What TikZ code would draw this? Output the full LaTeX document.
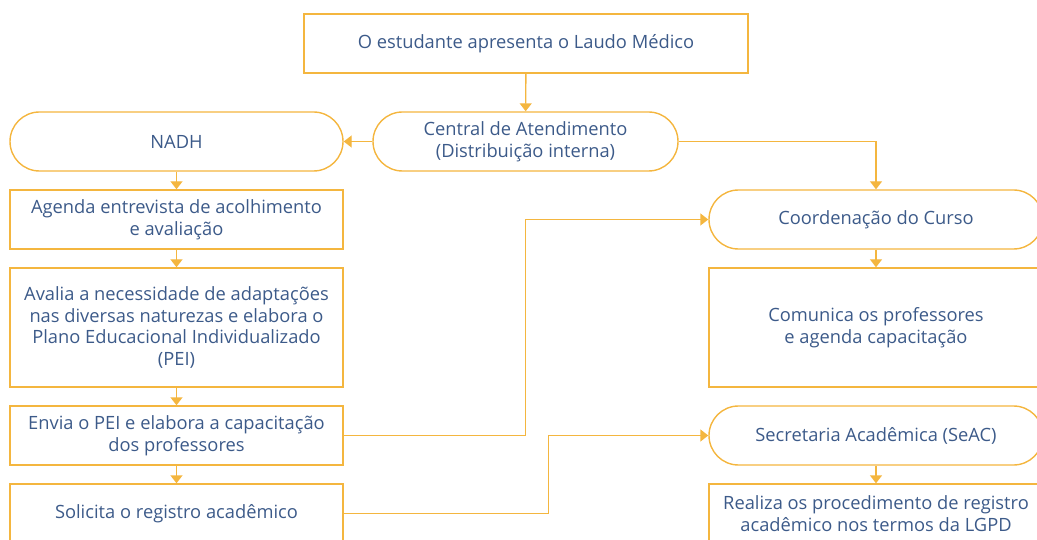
\documentclass[tikz,border=0pt]{standalone}
\usepackage{fontspec}
\setmainfont{Open Sans}
\usepackage{xcolor}
\usetikzlibrary{arrows.meta, positioning}
\definecolor{laranja}{HTML}{F4B63F}
\definecolor{azul}{HTML}{3C5A89}

\begin{document}
\begin{tikzpicture}[x=1pt, y=-1pt,
    caixa/.style={draw=laranja, line width=1.4pt, text=azul, align=center,
        font=\fontsize{18.3}{21.8}\selectfont, minimum width=333pt,
        minimum height=59pt, inner sep=0pt},
    etapa/.style={caixa, rounded corners=29.5pt},
    seta/.style={draw=laranja, line width=1.4pt, -{Triangle[width=12pt,length=8pt]}}]
\useasboundingbox (0,0) rectangle (1037,540);
\clip (0,0) rectangle (1037,540);

% Inicio
\node[caixa, minimum width=444pt] (laudo) at (526,43.5) {O estudante apresenta o Laudo Médico};
\node[etapa, minimum width=305pt] (central) at (525.5,141.5) {Central de Atendimento\\(Distribuição interna)};

% Coluna NADH
\node[etapa] (nadh) at (176.5,141.5) {NADH};
\node[caixa] (agenda) at (176.5,219.5) {Agenda entrevista de acolhimento\\e avaliação};
\node[caixa, minimum height=119pt] (avalia) at (176.5,327.5) {Avalia a necessidade de adaptações\\nas diversas naturezas e elabora o\\Plano Educacional Individualizado\\(PEI)};
\node[caixa] (envia) at (176.5,435.5) {Envia o PEI e elabora a capacitação\\dos professores};
\node[caixa] (solicita) at (176.5,513.5) {Solicita o registro acadêmico};

% Coluna direita
\node[etapa, minimum width=334pt] (coord) at (876,219.5) {Coordenação do Curso};
\node[caixa, minimum width=334pt, minimum height=119pt] (comunica) at (876,327.5) {Comunica os professores\\e agenda capacitação};
\node[etapa, minimum width=334pt] (seac) at (876,435.5) {Secretaria Acadêmica (SeAC)};
\node[caixa, minimum width=334pt] (realiza) at (876,513.5) {Realiza os procedimento de registro\\acadêmico nos termos da LGPD};

% Setas
\draw[seta] (laudo) -- (central);
\draw[seta] (central) -- (nadh);
\draw[seta] (central.east) -| (coord.north);
\foreach \a/\b in {nadh/agenda, agenda/avalia, avalia/envia, envia/solicita, coord/comunica, seac/realiza}
    \draw[seta] (\a) -- (\b);
\draw[seta] (envia.east) -- ++(182,0) |- (coord.west);
\draw[seta] (solicita.east) -- ++(205,0) |- (seac.west);
\end{tikzpicture}
\end{document}
